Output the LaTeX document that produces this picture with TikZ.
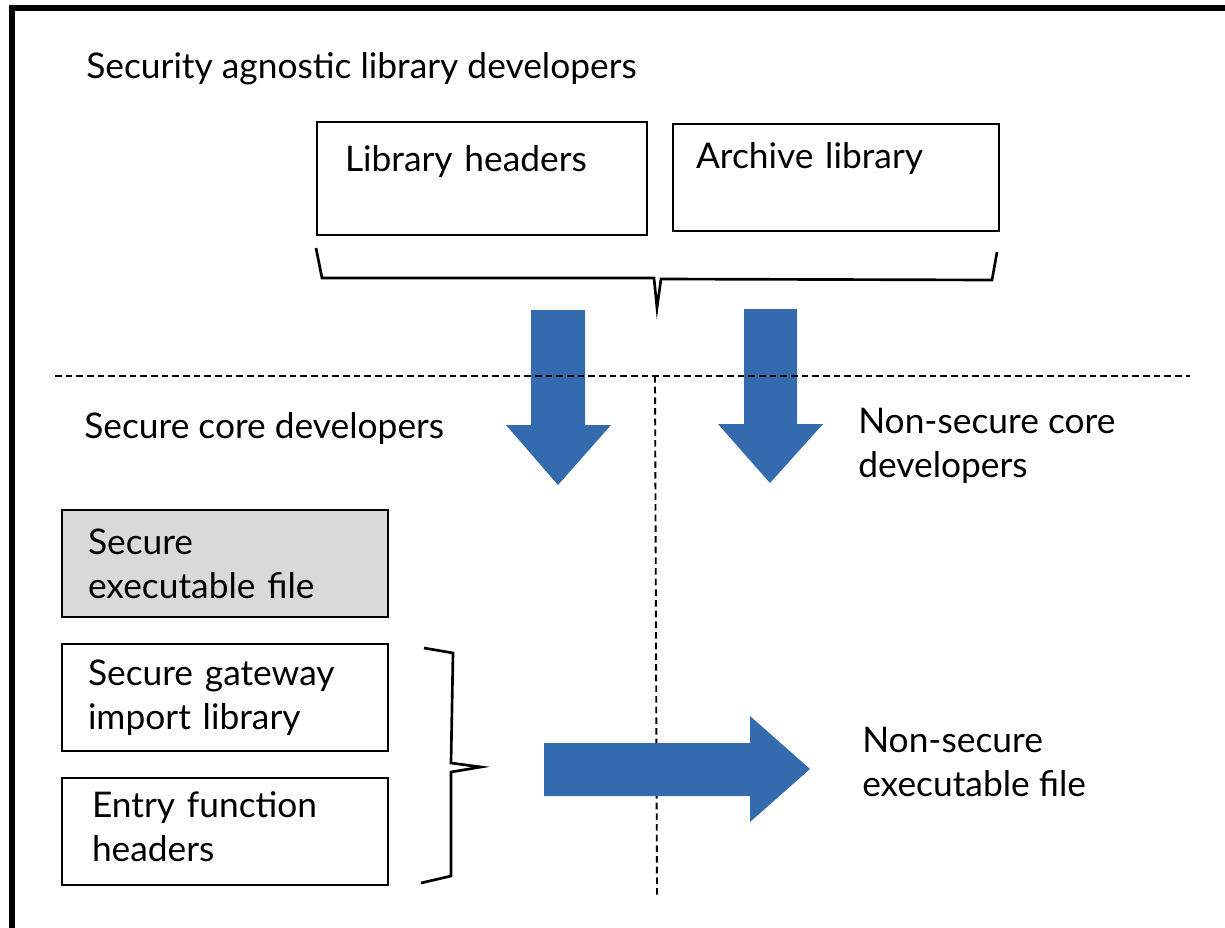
\documentclass[tikz,border=0pt]{standalone}
\usepackage{fontspec}
\setmainfont{Lato}
\usetikzlibrary{positioning}

\definecolor{arrowblue}{RGB}{52,107,175}
\definecolor{boxgray}{RGB}{217,217,217}

\begin{document}
\begin{tikzpicture}[x=0.75pt,y=-0.75pt,
  every node/.style={font=\fontsize{26.5}{33}\selectfont},
  roletext/.style={anchor=base west,inner sep=0pt,align=left},
  filebox/.style={draw,line width=1.5pt,align=left,inner ysep=0pt,
    minimum width=244.5pt,minimum height=80.25pt},
  divider/.style={line width=1.4pt,dash pattern=on 5pt off 3pt},
  bracket/.style={line width=2pt,line join=miter},
  blockarrow/.style={fill=arrowblue}]
  \useasboundingbox (0,0) rectangle (1225,928);

  \draw[line width=4pt] (1225,8) -- (12,8) -- (12,928);

  \node[roletext] (agnostic) at (86,78) {Security agnostic library developers};

  \node[filebox,minimum width=247.5pt,minimum height=84.75pt,
    text width=205.5pt,inner xsep=21pt,text height=19pt,text depth=28.8pt]
    (libhdr) at (482,178.5) {Library headers};
  \node[filebox,text width=210pt,inner xsep=17.25pt,
    text height=19pt,text depth=33.25pt]
    (archive) at (836,177.5) {Archive library};

  \draw[bracket] (316,248) -- (322,278) -- (654,278) -- (657,308)
    -- (661,279) -- (992,280) -- (997,252);

  \fill[blockarrow] (531,310) -- (585,310) -- (585,425) -- (611,425)
    -- (558,485) -- (506,425) -- (531,425) -- cycle;
  \fill[blockarrow] (744,309) -- (797,309) -- (797,424) -- (823,424)
    -- (770,483) -- (718,424) -- (744,424) -- cycle;

  \draw[divider] (55,376) -- (1190,376);
  \draw[divider] (655,376) -- (657,895);

  \node[roletext] (securecore) at (84,438) {Secure core developers};
  \node[roletext] (nscore) at (858,477) {Non-secure core\\developers};

  \node[filebox,fill=boxgray,text width=205.5pt,inner xsep=19.5pt]
    (secexe) at (225,563.5) {Secure\\executable file};
  \node[filebox,text width=205.5pt,inner xsep=19.5pt]
    (gateway) at (225,697.5) {Secure gateway\\import library};
  \node[filebox,text width=199.5pt,inner xsep=22.5pt,text depth=40.5pt]
    (entry) at (225,831.5) {Entry function\\headers};

  \draw[bracket] (424,648) -- (453,653) -- (451,763) -- (481,767)
    -- (451,772) -- (451,876) -- (421,883);

  \fill[blockarrow] (544,743) -- (750,743) -- (750,716) -- (810,769)
    -- (750,822) -- (750,796) -- (544,796) -- cycle;

  \node[roletext] (nsexe) at (862,796) {Non-secure\\executable file};
\end{tikzpicture}
\end{document}
